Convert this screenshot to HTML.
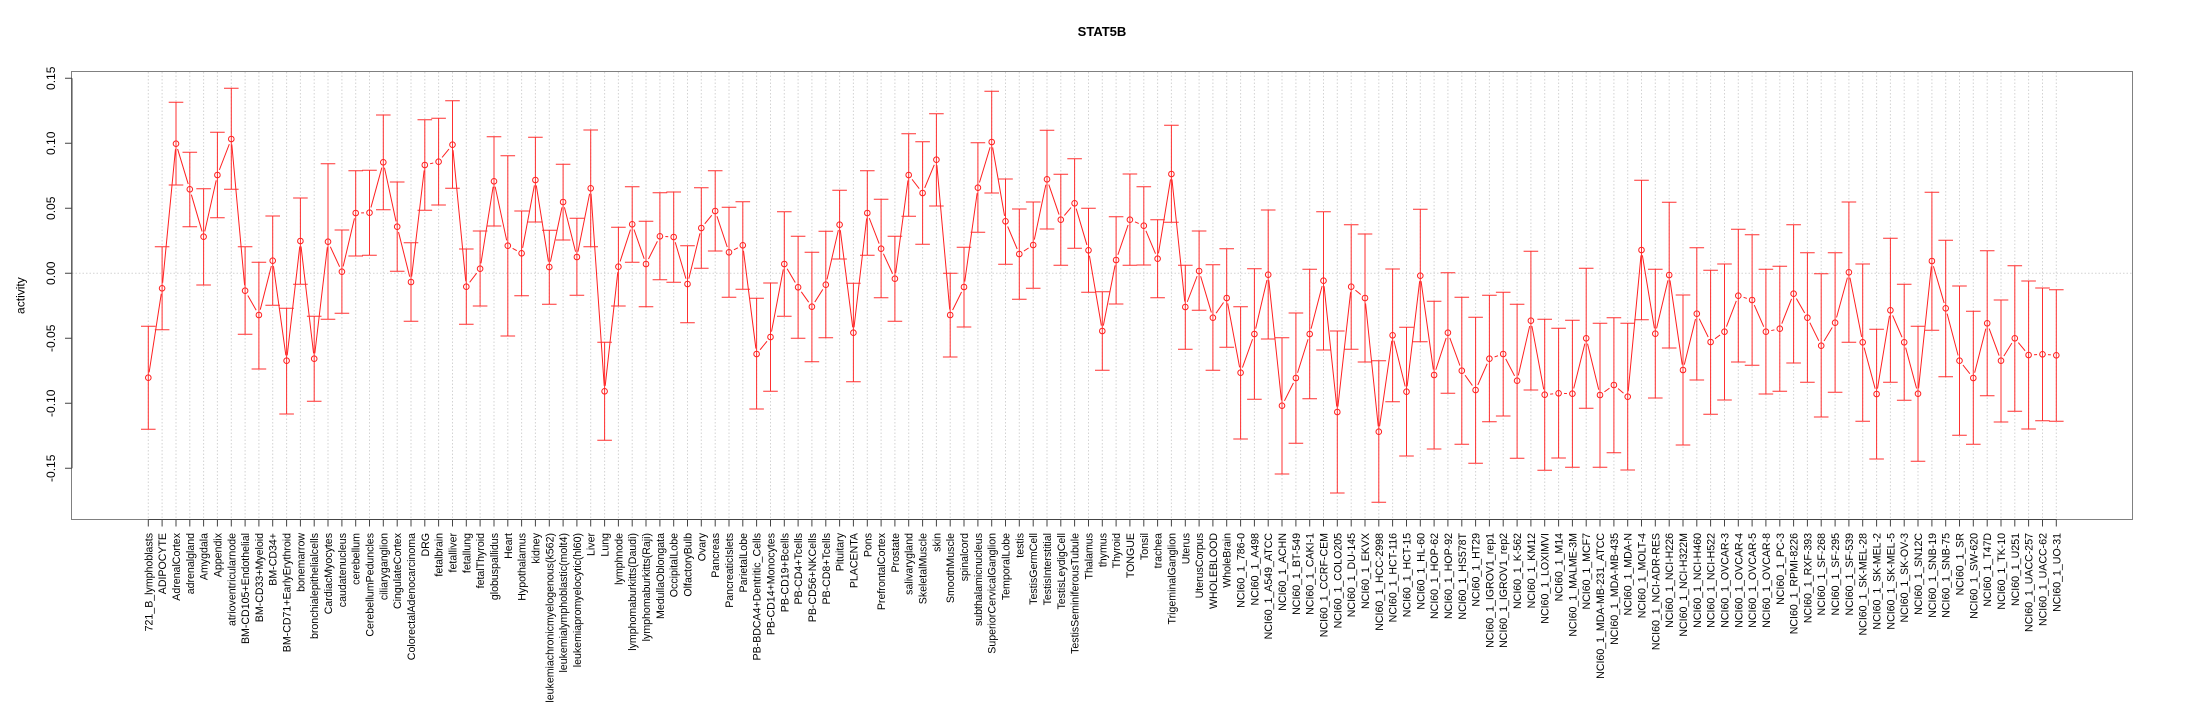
<!DOCTYPE html>
<html><head><meta charset="utf-8"><title>STAT5B</title>
<style>
html,body{margin:0;padding:0;background:#fff;}
svg{display:block;font-family:"Liberation Sans",Arial,sans-serif;}
</style></head>
<body>
<svg width="2205" height="720" viewBox="0 0 2205 720" xmlns="http://www.w3.org/2000/svg">
<rect width="2205" height="720" fill="#fff"/>
<text x="1102" y="36" font-size="13" font-weight="bold" text-anchor="middle" fill="#000">STAT5B</text>
<!-- grid -->
<path fill="none" stroke="#d3d3d3" stroke-width="1" stroke-dasharray="1.5 2" d="M148.3 72V519M162.1 72V519M176.0 72V519M189.8 72V519M203.6 72V519M217.4 72V519M231.3 72V519M245.1 72V519M258.9 72V519M272.7 72V519M286.6 72V519M300.4 72V519M314.2 72V519M328.0 72V519M341.9 72V519M355.7 72V519M369.5 72V519M383.3 72V519M397.2 72V519M411.0 72V519M424.8 72V519M438.6 72V519M452.5 72V519M466.3 72V519M480.1 72V519M494.0 72V519M507.8 72V519M521.6 72V519M535.4 72V519M549.3 72V519M563.1 72V519M576.9 72V519M590.7 72V519M604.6 72V519M618.4 72V519M632.2 72V519M646.0 72V519M659.9 72V519M673.7 72V519M687.5 72V519M701.3 72V519M715.2 72V519M729.0 72V519M742.8 72V519M756.6 72V519M770.5 72V519M784.3 72V519M798.1 72V519M811.9 72V519M825.8 72V519M839.6 72V519M853.4 72V519M867.3 72V519M881.1 72V519M894.9 72V519M908.7 72V519M922.6 72V519M936.4 72V519M950.2 72V519M964.0 72V519M977.9 72V519M991.7 72V519M1005.5 72V519M1019.3 72V519M1033.2 72V519M1047.0 72V519M1060.8 72V519M1074.6 72V519M1088.5 72V519M1102.3 72V519M1116.1 72V519M1129.9 72V519M1143.8 72V519M1157.6 72V519M1171.4 72V519M1185.3 72V519M1199.1 72V519M1212.9 72V519M1226.7 72V519M1240.6 72V519M1254.4 72V519M1268.2 72V519M1282.0 72V519M1295.9 72V519M1309.7 72V519M1323.5 72V519M1337.3 72V519M1351.2 72V519M1365.0 72V519M1378.8 72V519M1392.6 72V519M1406.5 72V519M1420.3 72V519M1434.1 72V519M1447.9 72V519M1461.8 72V519M1475.6 72V519M1489.4 72V519M1503.2 72V519M1517.1 72V519M1530.9 72V519M1544.7 72V519M1558.6 72V519M1572.4 72V519M1586.2 72V519M1600.0 72V519M1613.9 72V519M1627.7 72V519M1641.5 72V519M1655.3 72V519M1669.2 72V519M1683.0 72V519M1696.8 72V519M1710.6 72V519M1724.5 72V519M1738.3 72V519M1752.1 72V519M1765.9 72V519M1779.8 72V519M1793.6 72V519M1807.4 72V519M1821.2 72V519M1835.1 72V519M1848.9 72V519M1862.7 72V519M1876.6 72V519M1890.4 72V519M1904.2 72V519M1918.0 72V519M1931.9 72V519M1945.7 72V519M1959.5 72V519M1973.3 72V519M1987.2 72V519M2001.0 72V519M2014.8 72V519M2028.6 72V519M2042.5 72V519M2056.3 72V519M72 273.3H2132"/>
<!-- box -->
<rect x="71.5" y="71.5" width="2061" height="448" fill="none" stroke="#808080" stroke-width="1"/>
<!-- y axis -->
<path fill="none" stroke="#444" stroke-width="1" d="M72 78.3V468.3M65 78.3H72M65 143.3H72M65 208.3H72M65 273.3H72M65 338.3H72M65 403.3H72M65 468.3H72"/>
<g font-size="12" fill="#000" text-anchor="middle">
<text transform="translate(55,78.3) rotate(-90)">0.15</text>
<text transform="translate(55,143.3) rotate(-90)">0.10</text>
<text transform="translate(55,208.3) rotate(-90)">0.05</text>
<text transform="translate(55,273.3) rotate(-90)">0.00</text>
<text transform="translate(55,338.3) rotate(-90)">-0.05</text>
<text transform="translate(55,403.3) rotate(-90)">-0.10</text>
<text transform="translate(55,468.3) rotate(-90)">-0.15</text>
<text transform="translate(24.5,295.6) rotate(-90)">activity</text>
</g>
<!-- x axis -->
<path fill="none" stroke="#444" stroke-width="1" d="M148.3 519.5H2056.3M148.3 519.5v7M162.1 519.5v7M176.0 519.5v7M189.8 519.5v7M203.6 519.5v7M217.4 519.5v7M231.3 519.5v7M245.1 519.5v7M258.9 519.5v7M272.7 519.5v7M286.6 519.5v7M300.4 519.5v7M314.2 519.5v7M328.0 519.5v7M341.9 519.5v7M355.7 519.5v7M369.5 519.5v7M383.3 519.5v7M397.2 519.5v7M411.0 519.5v7M424.8 519.5v7M438.6 519.5v7M452.5 519.5v7M466.3 519.5v7M480.1 519.5v7M494.0 519.5v7M507.8 519.5v7M521.6 519.5v7M535.4 519.5v7M549.3 519.5v7M563.1 519.5v7M576.9 519.5v7M590.7 519.5v7M604.6 519.5v7M618.4 519.5v7M632.2 519.5v7M646.0 519.5v7M659.9 519.5v7M673.7 519.5v7M687.5 519.5v7M701.3 519.5v7M715.2 519.5v7M729.0 519.5v7M742.8 519.5v7M756.6 519.5v7M770.5 519.5v7M784.3 519.5v7M798.1 519.5v7M811.9 519.5v7M825.8 519.5v7M839.6 519.5v7M853.4 519.5v7M867.3 519.5v7M881.1 519.5v7M894.9 519.5v7M908.7 519.5v7M922.6 519.5v7M936.4 519.5v7M950.2 519.5v7M964.0 519.5v7M977.9 519.5v7M991.7 519.5v7M1005.5 519.5v7M1019.3 519.5v7M1033.2 519.5v7M1047.0 519.5v7M1060.8 519.5v7M1074.6 519.5v7M1088.5 519.5v7M1102.3 519.5v7M1116.1 519.5v7M1129.9 519.5v7M1143.8 519.5v7M1157.6 519.5v7M1171.4 519.5v7M1185.3 519.5v7M1199.1 519.5v7M1212.9 519.5v7M1226.7 519.5v7M1240.6 519.5v7M1254.4 519.5v7M1268.2 519.5v7M1282.0 519.5v7M1295.9 519.5v7M1309.7 519.5v7M1323.5 519.5v7M1337.3 519.5v7M1351.2 519.5v7M1365.0 519.5v7M1378.8 519.5v7M1392.6 519.5v7M1406.5 519.5v7M1420.3 519.5v7M1434.1 519.5v7M1447.9 519.5v7M1461.8 519.5v7M1475.6 519.5v7M1489.4 519.5v7M1503.2 519.5v7M1517.1 519.5v7M1530.9 519.5v7M1544.7 519.5v7M1558.6 519.5v7M1572.4 519.5v7M1586.2 519.5v7M1600.0 519.5v7M1613.9 519.5v7M1627.7 519.5v7M1641.5 519.5v7M1655.3 519.5v7M1669.2 519.5v7M1683.0 519.5v7M1696.8 519.5v7M1710.6 519.5v7M1724.5 519.5v7M1738.3 519.5v7M1752.1 519.5v7M1765.9 519.5v7M1779.8 519.5v7M1793.6 519.5v7M1807.4 519.5v7M1821.2 519.5v7M1835.1 519.5v7M1848.9 519.5v7M1862.7 519.5v7M1876.6 519.5v7M1890.4 519.5v7M1904.2 519.5v7M1918.0 519.5v7M1931.9 519.5v7M1945.7 519.5v7M1959.5 519.5v7M1973.3 519.5v7M1987.2 519.5v7M2001.0 519.5v7M2014.8 519.5v7M2028.6 519.5v7M2042.5 519.5v7M2056.3 519.5v7"/>
<!-- connecting line -->
<polyline fill="none" stroke="#ff2020" stroke-width="1" points="148.3,377.7 162.1,288.3 176.0,143.7 189.8,189.3 203.6,236.7 217.4,175 231.3,139 245.1,290.7 258.9,315 272.7,260.7 286.6,360.7 300.4,241 314.2,358.7 328.0,241.7 341.9,271.7 355.7,213 369.5,212.7 383.3,162.3 397.2,226.7 411.0,282 424.8,165 438.6,161.7 452.5,144.7 466.3,286.7 480.1,268.7 494.0,181.3 507.8,245.7 521.6,253.3 535.4,180 549.3,267 563.1,202 576.9,257 590.7,188.3 604.6,391.3 618.4,266.7 632.2,224.3 646.0,264 659.9,236.3 673.7,237 687.5,284 701.3,228 715.2,211 729.0,252.3 742.8,245.3 756.6,354 770.5,337 784.3,264 798.1,287.3 811.9,306.7 825.8,284.7 839.6,224.7 853.4,332.7 867.3,213 881.1,248.7 894.9,278.7 908.7,175 922.6,193 936.4,159.7 950.2,315 964.0,287 977.9,187.7 991.7,142 1005.5,221.3 1019.3,254 1033.2,245 1047.0,179.3 1060.8,219.7 1074.6,203.3 1088.5,250.3 1102.3,331 1116.1,260 1129.9,219.7 1143.8,225.7 1157.6,258.7 1171.4,174 1185.3,307 1199.1,271 1212.9,317.7 1226.7,298 1240.6,372.7 1254.4,334 1268.2,274.7 1282.0,405.7 1295.9,378 1309.7,334 1323.5,280.7 1337.3,412 1351.2,286.7 1365.0,298 1378.8,431.7 1392.6,335.3 1406.5,391.7 1420.3,275.7 1434.1,375 1447.9,332.7 1461.8,370.7 1475.6,390 1489.4,358.7 1503.2,354 1517.1,380.7 1530.9,320.7 1544.7,394.7 1558.6,393.3 1572.4,393.7 1586.2,338.3 1600.0,395 1613.9,385 1627.7,396.7 1641.5,250 1655.3,333.7 1669.2,275 1683.0,370 1696.8,313.7 1710.6,342 1724.5,331.7 1738.3,295.7 1752.1,300 1765.9,331.7 1779.8,328.7 1793.6,293.7 1807.4,317.7 1821.2,345.7 1835.1,322.7 1848.9,272.3 1862.7,342.3 1876.6,394 1890.4,310.3 1904.2,342.3 1918.0,393.7 1931.9,261 1945.7,308.3 1959.5,360.7 1973.3,378 1987.2,323.3 2001.0,360.7 2014.8,338.3 2028.6,355 2042.5,354.3 2056.3,355.3"/>
<!-- halos (gaps around points, like type="b") -->
<g fill="#fff" stroke="none">
<circle cx="148.3" cy="377.7" r="5.5"/><circle cx="162.1" cy="288.3" r="5.5"/><circle cx="176.0" cy="143.7" r="5.5"/><circle cx="189.8" cy="189.3" r="5.5"/><circle cx="203.6" cy="236.7" r="5.5"/><circle cx="217.4" cy="175" r="5.5"/><circle cx="231.3" cy="139" r="5.5"/><circle cx="245.1" cy="290.7" r="5.5"/><circle cx="258.9" cy="315" r="5.5"/><circle cx="272.7" cy="260.7" r="5.5"/><circle cx="286.6" cy="360.7" r="5.5"/><circle cx="300.4" cy="241" r="5.5"/><circle cx="314.2" cy="358.7" r="5.5"/><circle cx="328.0" cy="241.7" r="5.5"/><circle cx="341.9" cy="271.7" r="5.5"/><circle cx="355.7" cy="213" r="5.5"/><circle cx="369.5" cy="212.7" r="5.5"/><circle cx="383.3" cy="162.3" r="5.5"/><circle cx="397.2" cy="226.7" r="5.5"/><circle cx="411.0" cy="282" r="5.5"/><circle cx="424.8" cy="165" r="5.5"/><circle cx="438.6" cy="161.7" r="5.5"/><circle cx="452.5" cy="144.7" r="5.5"/><circle cx="466.3" cy="286.7" r="5.5"/><circle cx="480.1" cy="268.7" r="5.5"/><circle cx="494.0" cy="181.3" r="5.5"/><circle cx="507.8" cy="245.7" r="5.5"/><circle cx="521.6" cy="253.3" r="5.5"/><circle cx="535.4" cy="180" r="5.5"/><circle cx="549.3" cy="267" r="5.5"/><circle cx="563.1" cy="202" r="5.5"/><circle cx="576.9" cy="257" r="5.5"/><circle cx="590.7" cy="188.3" r="5.5"/><circle cx="604.6" cy="391.3" r="5.5"/><circle cx="618.4" cy="266.7" r="5.5"/><circle cx="632.2" cy="224.3" r="5.5"/><circle cx="646.0" cy="264" r="5.5"/><circle cx="659.9" cy="236.3" r="5.5"/><circle cx="673.7" cy="237" r="5.5"/><circle cx="687.5" cy="284" r="5.5"/><circle cx="701.3" cy="228" r="5.5"/><circle cx="715.2" cy="211" r="5.5"/><circle cx="729.0" cy="252.3" r="5.5"/><circle cx="742.8" cy="245.3" r="5.5"/><circle cx="756.6" cy="354" r="5.5"/><circle cx="770.5" cy="337" r="5.5"/><circle cx="784.3" cy="264" r="5.5"/><circle cx="798.1" cy="287.3" r="5.5"/><circle cx="811.9" cy="306.7" r="5.5"/><circle cx="825.8" cy="284.7" r="5.5"/><circle cx="839.6" cy="224.7" r="5.5"/><circle cx="853.4" cy="332.7" r="5.5"/><circle cx="867.3" cy="213" r="5.5"/><circle cx="881.1" cy="248.7" r="5.5"/><circle cx="894.9" cy="278.7" r="5.5"/><circle cx="908.7" cy="175" r="5.5"/><circle cx="922.6" cy="193" r="5.5"/><circle cx="936.4" cy="159.7" r="5.5"/><circle cx="950.2" cy="315" r="5.5"/><circle cx="964.0" cy="287" r="5.5"/><circle cx="977.9" cy="187.7" r="5.5"/><circle cx="991.7" cy="142" r="5.5"/><circle cx="1005.5" cy="221.3" r="5.5"/><circle cx="1019.3" cy="254" r="5.5"/><circle cx="1033.2" cy="245" r="5.5"/><circle cx="1047.0" cy="179.3" r="5.5"/><circle cx="1060.8" cy="219.7" r="5.5"/><circle cx="1074.6" cy="203.3" r="5.5"/><circle cx="1088.5" cy="250.3" r="5.5"/><circle cx="1102.3" cy="331" r="5.5"/><circle cx="1116.1" cy="260" r="5.5"/><circle cx="1129.9" cy="219.7" r="5.5"/><circle cx="1143.8" cy="225.7" r="5.5"/><circle cx="1157.6" cy="258.7" r="5.5"/><circle cx="1171.4" cy="174" r="5.5"/><circle cx="1185.3" cy="307" r="5.5"/><circle cx="1199.1" cy="271" r="5.5"/><circle cx="1212.9" cy="317.7" r="5.5"/><circle cx="1226.7" cy="298" r="5.5"/><circle cx="1240.6" cy="372.7" r="5.5"/><circle cx="1254.4" cy="334" r="5.5"/><circle cx="1268.2" cy="274.7" r="5.5"/><circle cx="1282.0" cy="405.7" r="5.5"/><circle cx="1295.9" cy="378" r="5.5"/><circle cx="1309.7" cy="334" r="5.5"/><circle cx="1323.5" cy="280.7" r="5.5"/><circle cx="1337.3" cy="412" r="5.5"/><circle cx="1351.2" cy="286.7" r="5.5"/><circle cx="1365.0" cy="298" r="5.5"/><circle cx="1378.8" cy="431.7" r="5.5"/><circle cx="1392.6" cy="335.3" r="5.5"/><circle cx="1406.5" cy="391.7" r="5.5"/><circle cx="1420.3" cy="275.7" r="5.5"/><circle cx="1434.1" cy="375" r="5.5"/><circle cx="1447.9" cy="332.7" r="5.5"/><circle cx="1461.8" cy="370.7" r="5.5"/><circle cx="1475.6" cy="390" r="5.5"/><circle cx="1489.4" cy="358.7" r="5.5"/><circle cx="1503.2" cy="354" r="5.5"/><circle cx="1517.1" cy="380.7" r="5.5"/><circle cx="1530.9" cy="320.7" r="5.5"/><circle cx="1544.7" cy="394.7" r="5.5"/><circle cx="1558.6" cy="393.3" r="5.5"/><circle cx="1572.4" cy="393.7" r="5.5"/><circle cx="1586.2" cy="338.3" r="5.5"/><circle cx="1600.0" cy="395" r="5.5"/><circle cx="1613.9" cy="385" r="5.5"/><circle cx="1627.7" cy="396.7" r="5.5"/><circle cx="1641.5" cy="250" r="5.5"/><circle cx="1655.3" cy="333.7" r="5.5"/><circle cx="1669.2" cy="275" r="5.5"/><circle cx="1683.0" cy="370" r="5.5"/><circle cx="1696.8" cy="313.7" r="5.5"/><circle cx="1710.6" cy="342" r="5.5"/><circle cx="1724.5" cy="331.7" r="5.5"/><circle cx="1738.3" cy="295.7" r="5.5"/><circle cx="1752.1" cy="300" r="5.5"/><circle cx="1765.9" cy="331.7" r="5.5"/><circle cx="1779.8" cy="328.7" r="5.5"/><circle cx="1793.6" cy="293.7" r="5.5"/><circle cx="1807.4" cy="317.7" r="5.5"/><circle cx="1821.2" cy="345.7" r="5.5"/><circle cx="1835.1" cy="322.7" r="5.5"/><circle cx="1848.9" cy="272.3" r="5.5"/><circle cx="1862.7" cy="342.3" r="5.5"/><circle cx="1876.6" cy="394" r="5.5"/><circle cx="1890.4" cy="310.3" r="5.5"/><circle cx="1904.2" cy="342.3" r="5.5"/><circle cx="1918.0" cy="393.7" r="5.5"/><circle cx="1931.9" cy="261" r="5.5"/><circle cx="1945.7" cy="308.3" r="5.5"/><circle cx="1959.5" cy="360.7" r="5.5"/><circle cx="1973.3" cy="378" r="5.5"/><circle cx="1987.2" cy="323.3" r="5.5"/><circle cx="2001.0" cy="360.7" r="5.5"/><circle cx="2014.8" cy="338.3" r="5.5"/><circle cx="2028.6" cy="355" r="5.5"/><circle cx="2042.5" cy="354.3" r="5.5"/><circle cx="2056.3" cy="355.3" r="5.5"/>
</g>
<!-- error bars -->
<path fill="none" stroke="#ff3030" stroke-width="1" d="M148.3 326.3V429.3M141.0 326.3h14.6M141.0 429.3h14.6
M162.1 246.7V329.7M154.8 246.7h14.6M154.8 329.7h14.6
M176.0 102.3V185M168.7 102.3h14.6M168.7 185h14.6
M189.8 152.3V226.7M182.5 152.3h14.6M182.5 226.7h14.6
M203.6 188.7V285M196.3 188.7h14.6M196.3 285h14.6
M217.4 132.3V217.7M210.1 132.3h14.6M210.1 217.7h14.6
M231.3 88.3V189.3M224.0 88.3h14.6M224.0 189.3h14.6
M245.1 246.7V334.3M237.8 246.7h14.6M237.8 334.3h14.6
M258.9 262.3V369M251.6 262.3h14.6M251.6 369h14.6
M272.7 216V305.3M265.4 216h14.6M265.4 305.3h14.6
M286.6 308.3V414M279.3 308.3h14.6M279.3 414h14.6
M300.4 198V284.3M293.1 198h14.6M293.1 284.3h14.6
M314.2 316.3V401.3M306.9 316.3h14.6M306.9 401.3h14.6
M328.0 163.7V319.3M320.7 163.7h14.6M320.7 319.3h14.6
M341.9 230V313.3M334.6 230h14.6M334.6 313.3h14.6
M355.7 170.7V256M348.4 170.7h14.6M348.4 256h14.6
M369.5 170.3V255.3M362.2 170.3h14.6M362.2 255.3h14.6
M383.3 115V209.7M376.0 115h14.6M376.0 209.7h14.6
M397.2 182V271.3M389.9 182h14.6M389.9 271.3h14.6
M411.0 242.7V321.3M403.7 242.7h14.6M403.7 321.3h14.6
M424.8 119.7V210.3M417.5 119.7h14.6M417.5 210.3h14.6
M438.6 118.3V205M431.3 118.3h14.6M431.3 205h14.6
M452.5 100.7V188.3M445.2 100.7h14.6M445.2 188.3h14.6
M466.3 249V324.3M459.0 249h14.6M459.0 324.3h14.6
M480.1 231V306M472.8 231h14.6M472.8 306h14.6
M494.0 136.7V226M486.7 136.7h14.6M486.7 226h14.6
M507.8 155.7V336M500.5 155.7h14.6M500.5 336h14.6
M521.6 211V295.7M514.3 211h14.6M514.3 295.7h14.6
M535.4 137.3V222M528.1 137.3h14.6M528.1 222h14.6
M549.3 230.3V304.3M542.0 230.3h14.6M542.0 304.3h14.6
M563.1 164.3V240M555.8 164.3h14.6M555.8 240h14.6
M576.9 218.3V295.3M569.6 218.3h14.6M569.6 295.3h14.6
M590.7 130V246.7M583.4 130h14.6M583.4 246.7h14.6
M604.6 342.3V440.3M597.3 342.3h14.6M597.3 440.3h14.6
M618.4 227.3V306M611.1 227.3h14.6M611.1 306h14.6
M632.2 186.7V262.3M624.9 186.7h14.6M624.9 262.3h14.6
M646.0 221.3V306.7M638.7 221.3h14.6M638.7 306.7h14.6
M659.9 192.7V279.7M652.6 192.7h14.6M652.6 279.7h14.6
M673.7 192V282.3M666.4 192h14.6M666.4 282.3h14.6
M687.5 245.7V322.7M680.2 245.7h14.6M680.2 322.7h14.6
M701.3 187.7V268.3M694.0 187.7h14.6M694.0 268.3h14.6
M715.2 170.7V251M707.9 170.7h14.6M707.9 251h14.6
M729.0 207.3V297.3M721.7 207.3h14.6M721.7 297.3h14.6
M742.8 201.7V289.3M735.5 201.7h14.6M735.5 289.3h14.6
M756.6 298.3V409M749.3 298.3h14.6M749.3 409h14.6
M770.5 283V391.3M763.2 283h14.6M763.2 391.3h14.6
M784.3 211.7V316.3M777.0 211.7h14.6M777.0 316.3h14.6
M798.1 236.3V338.3M790.8 236.3h14.6M790.8 338.3h14.6
M811.9 252.3V361.7M804.6 252.3h14.6M804.6 361.7h14.6
M825.8 231.3V337.7M818.5 231.3h14.6M818.5 337.7h14.6
M839.6 190.3V259M832.3 190.3h14.6M832.3 259h14.6
M853.4 283.3V381.7M846.1 283.3h14.6M846.1 381.7h14.6
M867.3 170.7V255.3M860.0 170.7h14.6M860.0 255.3h14.6
M881.1 199.3V297.7M873.8 199.3h14.6M873.8 297.7h14.6
M894.9 236.3V321.3M887.6 236.3h14.6M887.6 321.3h14.6
M908.7 133.7V216.3M901.4 133.7h14.6M901.4 216.3h14.6
M922.6 141.7V244.3M915.3 141.7h14.6M915.3 244.3h14.6
M936.4 113.7V206M929.1 113.7h14.6M929.1 206h14.6
M950.2 273.3V357M942.9 273.3h14.6M942.9 357h14.6
M964.0 247.3V327M956.7 247.3h14.6M956.7 327h14.6
M977.9 142.7V232.3M970.6 142.7h14.6M970.6 232.3h14.6
M991.7 91.3V193M984.4 91.3h14.6M984.4 193h14.6
M1005.5 179V264.3M998.2 179h14.6M998.2 264.3h14.6
M1019.3 209V299.3M1012.0 209h14.6M1012.0 299.3h14.6
M1033.2 202V288.3M1025.9 202h14.6M1025.9 288.3h14.6
M1047.0 130.3V229M1039.7 130.3h14.6M1039.7 229h14.6
M1060.8 174.3V265.3M1053.5 174.3h14.6M1053.5 265.3h14.6
M1074.6 158.7V248.3M1067.3 158.7h14.6M1067.3 248.3h14.6
M1088.5 208.3V292.3M1081.2 208.3h14.6M1081.2 292.3h14.6
M1102.3 291.7V370.3M1095.0 291.7h14.6M1095.0 370.3h14.6
M1116.1 216.7V304M1108.8 216.7h14.6M1108.8 304h14.6
M1129.9 174V265.3M1122.6 174h14.6M1122.6 265.3h14.6
M1143.8 186.7V265M1136.5 186.7h14.6M1136.5 265h14.6
M1157.6 219.7V297.7M1150.3 219.7h14.6M1150.3 297.7h14.6
M1171.4 125.3V222.3M1164.1 125.3h14.6M1164.1 222.3h14.6
M1185.3 265.3V349.3M1178.0 265.3h14.6M1178.0 349.3h14.6
M1199.1 231V310.3M1191.8 231h14.6M1191.8 310.3h14.6
M1212.9 264.7V370.3M1205.6 264.7h14.6M1205.6 370.3h14.6
M1226.7 248.7V347.3M1219.4 248.7h14.6M1219.4 347.3h14.6
M1240.6 306.7V439M1233.3 306.7h14.6M1233.3 439h14.6
M1254.4 268.7V399.3M1247.1 268.7h14.6M1247.1 399.3h14.6
M1268.2 210V339M1260.9 210h14.6M1260.9 339h14.6
M1282.0 337.7V474M1274.7 337.7h14.6M1274.7 474h14.6
M1295.9 313V443.3M1288.6 313h14.6M1288.6 443.3h14.6
M1309.7 269.3V398.7M1302.4 269.3h14.6M1302.4 398.7h14.6
M1323.5 211.7V350M1316.2 211.7h14.6M1316.2 350h14.6
M1337.3 331V493M1330.0 331h14.6M1330.0 493h14.6
M1351.2 224.7V349.3M1343.9 224.7h14.6M1343.9 349.3h14.6
M1365.0 234V362M1357.7 234h14.6M1357.7 362h14.6
M1378.8 360.7V502.3M1371.5 360.7h14.6M1371.5 502.3h14.6
M1392.6 269V401.7M1385.3 269h14.6M1385.3 401.7h14.6
M1406.5 327.3V456M1399.2 327.3h14.6M1399.2 456h14.6
M1420.3 209.3V341.7M1413.0 209.3h14.6M1413.0 341.7h14.6
M1434.1 301.3V449M1426.8 301.3h14.6M1426.8 449h14.6
M1447.9 272.7V393.3M1440.6 272.7h14.6M1440.6 393.3h14.6
M1461.8 297.3V444.3M1454.5 297.3h14.6M1454.5 444.3h14.6
M1475.6 317.3V463.3M1468.3 317.3h14.6M1468.3 463.3h14.6
M1489.4 295.3V421.7M1482.1 295.3h14.6M1482.1 421.7h14.6
M1503.2 292.3V416M1495.9 292.3h14.6M1495.9 416h14.6
M1517.1 304.3V458.3M1509.8 304.3h14.6M1509.8 458.3h14.6
M1530.9 251.3V390M1523.6 251.3h14.6M1523.6 390h14.6
M1544.7 319.3V470.3M1537.4 319.3h14.6M1537.4 470.3h14.6
M1558.6 328.3V458M1551.3 328.3h14.6M1551.3 458h14.6
M1572.4 320.3V467.3M1565.1 320.3h14.6M1565.1 467.3h14.6
M1586.2 268.3V408.3M1578.9 268.3h14.6M1578.9 408.3h14.6
M1600.0 323.3V467.3M1592.7 323.3h14.6M1592.7 467.3h14.6
M1613.9 317.7V452.7M1606.6 317.7h14.6M1606.6 452.7h14.6
M1627.7 323.3V470M1620.4 323.3h14.6M1620.4 470h14.6
M1641.5 180.3V319.7M1634.2 180.3h14.6M1634.2 319.7h14.6
M1655.3 269.3V398M1648.0 269.3h14.6M1648.0 398h14.6
M1669.2 202.3V348M1661.9 202.3h14.6M1661.9 348h14.6
M1683.0 295V445M1675.7 295h14.6M1675.7 445h14.6
M1696.8 247.7V380M1689.5 247.7h14.6M1689.5 380h14.6
M1710.6 270.3V414.3M1703.3 270.3h14.6M1703.3 414.3h14.6
M1724.5 264V400M1717.2 264h14.6M1717.2 400h14.6
M1738.3 229.3V362M1731.0 229.3h14.6M1731.0 362h14.6
M1752.1 234.7V365.3M1744.8 234.7h14.6M1744.8 365.3h14.6
M1765.9 269.3V394M1758.6 269.3h14.6M1758.6 394h14.6
M1779.8 266.3V391.3M1772.5 266.3h14.6M1772.5 391.3h14.6
M1793.6 224.7V363M1786.3 224.7h14.6M1786.3 363h14.6
M1807.4 252.7V382.3M1800.1 252.7h14.6M1800.1 382.3h14.6
M1821.2 273.7V417M1813.9 273.7h14.6M1813.9 417h14.6
M1835.1 252.7V392.3M1827.8 252.7h14.6M1827.8 392.3h14.6
M1848.9 202V342.3M1841.6 202h14.6M1841.6 342.3h14.6
M1862.7 264V421.3M1855.4 264h14.6M1855.4 421.3h14.6
M1876.6 329.3V459M1869.3 329.3h14.6M1869.3 459h14.6
M1890.4 238.3V382.3M1883.1 238.3h14.6M1883.1 382.3h14.6
M1904.2 284.3V400.3M1896.9 284.3h14.6M1896.9 400.3h14.6
M1918.0 326.3V461.3M1910.7 326.3h14.6M1910.7 461.3h14.6
M1931.9 192.3V330.3M1924.6 192.3h14.6M1924.6 330.3h14.6
M1945.7 240.3V376.7M1938.4 240.3h14.6M1938.4 376.7h14.6
M1959.5 286V435.3M1952.2 286h14.6M1952.2 435.3h14.6
M1973.3 311.3V444.3M1966.0 311.3h14.6M1966.0 444.3h14.6
M1987.2 250.7V395.7M1979.9 250.7h14.6M1979.9 395.7h14.6
M2001.0 300V422M1993.7 300h14.6M1993.7 422h14.6
M2014.8 265.7V411.3M2007.5 265.7h14.6M2007.5 411.3h14.6
M2028.6 281V429M2021.3 281h14.6M2021.3 429h14.6
M2042.5 288V420.7M2035.2 288h14.6M2035.2 420.7h14.6
M2056.3 289.7V421.3M2049.0 289.7h14.6M2049.0 421.3h14.6"/>
<!-- points -->
<g fill="none" stroke="#ff2020" stroke-width="1">
<circle cx="148.3" cy="377.7" r="2.8"/><circle cx="162.1" cy="288.3" r="2.8"/><circle cx="176.0" cy="143.7" r="2.8"/><circle cx="189.8" cy="189.3" r="2.8"/><circle cx="203.6" cy="236.7" r="2.8"/><circle cx="217.4" cy="175" r="2.8"/><circle cx="231.3" cy="139" r="2.8"/><circle cx="245.1" cy="290.7" r="2.8"/><circle cx="258.9" cy="315" r="2.8"/><circle cx="272.7" cy="260.7" r="2.8"/><circle cx="286.6" cy="360.7" r="2.8"/><circle cx="300.4" cy="241" r="2.8"/><circle cx="314.2" cy="358.7" r="2.8"/><circle cx="328.0" cy="241.7" r="2.8"/><circle cx="341.9" cy="271.7" r="2.8"/><circle cx="355.7" cy="213" r="2.8"/><circle cx="369.5" cy="212.7" r="2.8"/><circle cx="383.3" cy="162.3" r="2.8"/><circle cx="397.2" cy="226.7" r="2.8"/><circle cx="411.0" cy="282" r="2.8"/><circle cx="424.8" cy="165" r="2.8"/><circle cx="438.6" cy="161.7" r="2.8"/><circle cx="452.5" cy="144.7" r="2.8"/><circle cx="466.3" cy="286.7" r="2.8"/><circle cx="480.1" cy="268.7" r="2.8"/><circle cx="494.0" cy="181.3" r="2.8"/><circle cx="507.8" cy="245.7" r="2.8"/><circle cx="521.6" cy="253.3" r="2.8"/><circle cx="535.4" cy="180" r="2.8"/><circle cx="549.3" cy="267" r="2.8"/><circle cx="563.1" cy="202" r="2.8"/><circle cx="576.9" cy="257" r="2.8"/><circle cx="590.7" cy="188.3" r="2.8"/><circle cx="604.6" cy="391.3" r="2.8"/><circle cx="618.4" cy="266.7" r="2.8"/><circle cx="632.2" cy="224.3" r="2.8"/><circle cx="646.0" cy="264" r="2.8"/><circle cx="659.9" cy="236.3" r="2.8"/><circle cx="673.7" cy="237" r="2.8"/><circle cx="687.5" cy="284" r="2.8"/><circle cx="701.3" cy="228" r="2.8"/><circle cx="715.2" cy="211" r="2.8"/><circle cx="729.0" cy="252.3" r="2.8"/><circle cx="742.8" cy="245.3" r="2.8"/><circle cx="756.6" cy="354" r="2.8"/><circle cx="770.5" cy="337" r="2.8"/><circle cx="784.3" cy="264" r="2.8"/><circle cx="798.1" cy="287.3" r="2.8"/><circle cx="811.9" cy="306.7" r="2.8"/><circle cx="825.8" cy="284.7" r="2.8"/><circle cx="839.6" cy="224.7" r="2.8"/><circle cx="853.4" cy="332.7" r="2.8"/><circle cx="867.3" cy="213" r="2.8"/><circle cx="881.1" cy="248.7" r="2.8"/><circle cx="894.9" cy="278.7" r="2.8"/><circle cx="908.7" cy="175" r="2.8"/><circle cx="922.6" cy="193" r="2.8"/><circle cx="936.4" cy="159.7" r="2.8"/><circle cx="950.2" cy="315" r="2.8"/><circle cx="964.0" cy="287" r="2.8"/><circle cx="977.9" cy="187.7" r="2.8"/><circle cx="991.7" cy="142" r="2.8"/><circle cx="1005.5" cy="221.3" r="2.8"/><circle cx="1019.3" cy="254" r="2.8"/><circle cx="1033.2" cy="245" r="2.8"/><circle cx="1047.0" cy="179.3" r="2.8"/><circle cx="1060.8" cy="219.7" r="2.8"/><circle cx="1074.6" cy="203.3" r="2.8"/><circle cx="1088.5" cy="250.3" r="2.8"/><circle cx="1102.3" cy="331" r="2.8"/><circle cx="1116.1" cy="260" r="2.8"/><circle cx="1129.9" cy="219.7" r="2.8"/><circle cx="1143.8" cy="225.7" r="2.8"/><circle cx="1157.6" cy="258.7" r="2.8"/><circle cx="1171.4" cy="174" r="2.8"/><circle cx="1185.3" cy="307" r="2.8"/><circle cx="1199.1" cy="271" r="2.8"/><circle cx="1212.9" cy="317.7" r="2.8"/><circle cx="1226.7" cy="298" r="2.8"/><circle cx="1240.6" cy="372.7" r="2.8"/><circle cx="1254.4" cy="334" r="2.8"/><circle cx="1268.2" cy="274.7" r="2.8"/><circle cx="1282.0" cy="405.7" r="2.8"/><circle cx="1295.9" cy="378" r="2.8"/><circle cx="1309.7" cy="334" r="2.8"/><circle cx="1323.5" cy="280.7" r="2.8"/><circle cx="1337.3" cy="412" r="2.8"/><circle cx="1351.2" cy="286.7" r="2.8"/><circle cx="1365.0" cy="298" r="2.8"/><circle cx="1378.8" cy="431.7" r="2.8"/><circle cx="1392.6" cy="335.3" r="2.8"/><circle cx="1406.5" cy="391.7" r="2.8"/><circle cx="1420.3" cy="275.7" r="2.8"/><circle cx="1434.1" cy="375" r="2.8"/><circle cx="1447.9" cy="332.7" r="2.8"/><circle cx="1461.8" cy="370.7" r="2.8"/><circle cx="1475.6" cy="390" r="2.8"/><circle cx="1489.4" cy="358.7" r="2.8"/><circle cx="1503.2" cy="354" r="2.8"/><circle cx="1517.1" cy="380.7" r="2.8"/><circle cx="1530.9" cy="320.7" r="2.8"/><circle cx="1544.7" cy="394.7" r="2.8"/><circle cx="1558.6" cy="393.3" r="2.8"/><circle cx="1572.4" cy="393.7" r="2.8"/><circle cx="1586.2" cy="338.3" r="2.8"/><circle cx="1600.0" cy="395" r="2.8"/><circle cx="1613.9" cy="385" r="2.8"/><circle cx="1627.7" cy="396.7" r="2.8"/><circle cx="1641.5" cy="250" r="2.8"/><circle cx="1655.3" cy="333.7" r="2.8"/><circle cx="1669.2" cy="275" r="2.8"/><circle cx="1683.0" cy="370" r="2.8"/><circle cx="1696.8" cy="313.7" r="2.8"/><circle cx="1710.6" cy="342" r="2.8"/><circle cx="1724.5" cy="331.7" r="2.8"/><circle cx="1738.3" cy="295.7" r="2.8"/><circle cx="1752.1" cy="300" r="2.8"/><circle cx="1765.9" cy="331.7" r="2.8"/><circle cx="1779.8" cy="328.7" r="2.8"/><circle cx="1793.6" cy="293.7" r="2.8"/><circle cx="1807.4" cy="317.7" r="2.8"/><circle cx="1821.2" cy="345.7" r="2.8"/><circle cx="1835.1" cy="322.7" r="2.8"/><circle cx="1848.9" cy="272.3" r="2.8"/><circle cx="1862.7" cy="342.3" r="2.8"/><circle cx="1876.6" cy="394" r="2.8"/><circle cx="1890.4" cy="310.3" r="2.8"/><circle cx="1904.2" cy="342.3" r="2.8"/><circle cx="1918.0" cy="393.7" r="2.8"/><circle cx="1931.9" cy="261" r="2.8"/><circle cx="1945.7" cy="308.3" r="2.8"/><circle cx="1959.5" cy="360.7" r="2.8"/><circle cx="1973.3" cy="378" r="2.8"/><circle cx="1987.2" cy="323.3" r="2.8"/><circle cx="2001.0" cy="360.7" r="2.8"/><circle cx="2014.8" cy="338.3" r="2.8"/><circle cx="2028.6" cy="355" r="2.8"/><circle cx="2042.5" cy="354.3" r="2.8"/><circle cx="2056.3" cy="355.3" r="2.8"/>
</g>
<!-- x labels -->
<g font-size="10.6" fill="#000" text-anchor="end">
<text transform="translate(152.3,533) rotate(-90)">721_B_lymphoblasts</text>
<text transform="translate(166.1,533) rotate(-90)">ADIPOCYTE</text>
<text transform="translate(180.0,533) rotate(-90)">AdrenalCortex</text>
<text transform="translate(193.8,533) rotate(-90)">adrenalgland</text>
<text transform="translate(207.6,533) rotate(-90)">Amygdala</text>
<text transform="translate(221.4,533) rotate(-90)">Appendix</text>
<text transform="translate(235.3,533) rotate(-90)">atrioventricularnode</text>
<text transform="translate(249.1,533) rotate(-90)">BM-CD105+Endothelial</text>
<text transform="translate(262.9,533) rotate(-90)">BM-CD33+Myeloid</text>
<text transform="translate(276.7,533) rotate(-90)">BM-CD34+</text>
<text transform="translate(290.6,533) rotate(-90)">BM-CD71+EarlyErythroid</text>
<text transform="translate(304.4,533) rotate(-90)">bonemarrow</text>
<text transform="translate(318.2,533) rotate(-90)">bronchialepithelialcells</text>
<text transform="translate(332.0,533) rotate(-90)">CardiacMyocytes</text>
<text transform="translate(345.9,533) rotate(-90)">caudatenucleus</text>
<text transform="translate(359.7,533) rotate(-90)">cerebellum</text>
<text transform="translate(373.5,533) rotate(-90)">CerebellumPeduncles</text>
<text transform="translate(387.3,533) rotate(-90)">ciliaryganglion</text>
<text transform="translate(401.2,533) rotate(-90)">CingulateCortex</text>
<text transform="translate(415.0,533) rotate(-90)">ColorectalAdenocarcinoma</text>
<text transform="translate(428.8,533) rotate(-90)">DRG</text>
<text transform="translate(442.6,533) rotate(-90)">fetalbrain</text>
<text transform="translate(456.5,533) rotate(-90)">fetalliver</text>
<text transform="translate(470.3,533) rotate(-90)">fetallung</text>
<text transform="translate(484.1,533) rotate(-90)">fetalThyroid</text>
<text transform="translate(498.0,533) rotate(-90)">globuspallidus</text>
<text transform="translate(511.8,533) rotate(-90)">Heart</text>
<text transform="translate(525.6,533) rotate(-90)">Hypothalamus</text>
<text transform="translate(539.4,533) rotate(-90)">kidney</text>
<text transform="translate(553.3,533) rotate(-90)">leukemiachronicmyelogenous(k562)</text>
<text transform="translate(567.1,533) rotate(-90)">leukemialymphoblastic(molt4)</text>
<text transform="translate(580.9,533) rotate(-90)">leukemiapromyelocytic(hl60)</text>
<text transform="translate(594.7,533) rotate(-90)">Liver</text>
<text transform="translate(608.6,533) rotate(-90)">Lung</text>
<text transform="translate(622.4,533) rotate(-90)">lymphnode</text>
<text transform="translate(636.2,533) rotate(-90)">lymphomaburkitts(Daudi)</text>
<text transform="translate(650.0,533) rotate(-90)">lymphomaburkitts(Raji)</text>
<text transform="translate(663.9,533) rotate(-90)">MedullaOblongata</text>
<text transform="translate(677.7,533) rotate(-90)">OccipitalLobe</text>
<text transform="translate(691.5,533) rotate(-90)">OlfactoryBulb</text>
<text transform="translate(705.3,533) rotate(-90)">Ovary</text>
<text transform="translate(719.2,533) rotate(-90)">Pancreas</text>
<text transform="translate(733.0,533) rotate(-90)">PancreaticIslets</text>
<text transform="translate(746.8,533) rotate(-90)">ParietalLobe</text>
<text transform="translate(760.6,533) rotate(-90)">PB-BDCA4+Dentritic_Cells</text>
<text transform="translate(774.5,533) rotate(-90)">PB-CD14+Monocytes</text>
<text transform="translate(788.3,533) rotate(-90)">PB-CD19+Bcells</text>
<text transform="translate(802.1,533) rotate(-90)">PB-CD4+Tcells</text>
<text transform="translate(815.9,533) rotate(-90)">PB-CD56+NKCells</text>
<text transform="translate(829.8,533) rotate(-90)">PB-CD8+Tcells</text>
<text transform="translate(843.6,533) rotate(-90)">Pituitary</text>
<text transform="translate(857.4,533) rotate(-90)">PLACENTA</text>
<text transform="translate(871.3,533) rotate(-90)">Pons</text>
<text transform="translate(885.1,533) rotate(-90)">PrefrontalCortex</text>
<text transform="translate(898.9,533) rotate(-90)">Prostate</text>
<text transform="translate(912.7,533) rotate(-90)">salivarygland</text>
<text transform="translate(926.6,533) rotate(-90)">SkeletalMuscle</text>
<text transform="translate(940.4,533) rotate(-90)">skin</text>
<text transform="translate(954.2,533) rotate(-90)">SmoothMuscle</text>
<text transform="translate(968.0,533) rotate(-90)">spinalcord</text>
<text transform="translate(981.9,533) rotate(-90)">subthalamicnucleus</text>
<text transform="translate(995.7,533) rotate(-90)">SuperiorCervicalGanglion</text>
<text transform="translate(1009.5,533) rotate(-90)">TemporalLobe</text>
<text transform="translate(1023.3,533) rotate(-90)">testis</text>
<text transform="translate(1037.2,533) rotate(-90)">TestisGermCell</text>
<text transform="translate(1051.0,533) rotate(-90)">TestisInterstitial</text>
<text transform="translate(1064.8,533) rotate(-90)">TestisLeydigCell</text>
<text transform="translate(1078.6,533) rotate(-90)">TestisSeminiferousTubule</text>
<text transform="translate(1092.5,533) rotate(-90)">Thalamus</text>
<text transform="translate(1106.3,533) rotate(-90)">thymus</text>
<text transform="translate(1120.1,533) rotate(-90)">Thyroid</text>
<text transform="translate(1133.9,533) rotate(-90)">TONGUE</text>
<text transform="translate(1147.8,533) rotate(-90)">Tonsil</text>
<text transform="translate(1161.6,533) rotate(-90)">trachea</text>
<text transform="translate(1175.4,533) rotate(-90)">TrigeminalGanglion</text>
<text transform="translate(1189.3,533) rotate(-90)">Uterus</text>
<text transform="translate(1203.1,533) rotate(-90)">UterusCorpus</text>
<text transform="translate(1216.9,533) rotate(-90)">WHOLEBLOOD</text>
<text transform="translate(1230.7,533) rotate(-90)">WholeBrain</text>
<text transform="translate(1244.6,533) rotate(-90)">NCI60_1_786-0</text>
<text transform="translate(1258.4,533) rotate(-90)">NCI60_1_A498</text>
<text transform="translate(1272.2,533) rotate(-90)">NCI60_1_A549_ATCC</text>
<text transform="translate(1286.0,533) rotate(-90)">NCI60_1_ACHN</text>
<text transform="translate(1299.9,533) rotate(-90)">NCI60_1_BT-549</text>
<text transform="translate(1313.7,533) rotate(-90)">NCI60_1_CAKI-1</text>
<text transform="translate(1327.5,533) rotate(-90)">NCI60_1_CCRF-CEM</text>
<text transform="translate(1341.3,533) rotate(-90)">NCI60_1_COLO205</text>
<text transform="translate(1355.2,533) rotate(-90)">NCI60_1_DU-145</text>
<text transform="translate(1369.0,533) rotate(-90)">NCI60_1_EKVX</text>
<text transform="translate(1382.8,533) rotate(-90)">NCI60_1_HCC-2998</text>
<text transform="translate(1396.6,533) rotate(-90)">NCI60_1_HCT-116</text>
<text transform="translate(1410.5,533) rotate(-90)">NCI60_1_HCT-15</text>
<text transform="translate(1424.3,533) rotate(-90)">NCI60_1_HL-60</text>
<text transform="translate(1438.1,533) rotate(-90)">NCI60_1_HOP-62</text>
<text transform="translate(1451.9,533) rotate(-90)">NCI60_1_HOP-92</text>
<text transform="translate(1465.8,533) rotate(-90)">NCI60_1_HS578T</text>
<text transform="translate(1479.6,533) rotate(-90)">NCI60_1_HT29</text>
<text transform="translate(1493.4,533) rotate(-90)">NCI60_1_IGROV1_rep1</text>
<text transform="translate(1507.2,533) rotate(-90)">NCI60_1_IGROV1_rep2</text>
<text transform="translate(1521.1,533) rotate(-90)">NCI60_1_K-562</text>
<text transform="translate(1534.9,533) rotate(-90)">NCI60_1_KM12</text>
<text transform="translate(1548.7,533) rotate(-90)">NCI60_1_LOXIMVI</text>
<text transform="translate(1562.6,533) rotate(-90)">NCI60_1_M14</text>
<text transform="translate(1576.4,533) rotate(-90)">NCI60_1_MALME-3M</text>
<text transform="translate(1590.2,533) rotate(-90)">NCI60_1_MCF7</text>
<text transform="translate(1604.0,533) rotate(-90)">NCI60_1_MDA-MB-231_ATCC</text>
<text transform="translate(1617.9,533) rotate(-90)">NCI60_1_MDA-MB-435</text>
<text transform="translate(1631.7,533) rotate(-90)">NCI60_1_MDA-N</text>
<text transform="translate(1645.5,533) rotate(-90)">NCI60_1_MOLT-4</text>
<text transform="translate(1659.3,533) rotate(-90)">NCI60_1_NCI-ADR-RES</text>
<text transform="translate(1673.2,533) rotate(-90)">NCI60_1_NCI-H226</text>
<text transform="translate(1687.0,533) rotate(-90)">NCI60_1_NCI-H322M</text>
<text transform="translate(1700.8,533) rotate(-90)">NCI60_1_NCI-H460</text>
<text transform="translate(1714.6,533) rotate(-90)">NCI60_1_NCI-H522</text>
<text transform="translate(1728.5,533) rotate(-90)">NCI60_1_OVCAR-3</text>
<text transform="translate(1742.3,533) rotate(-90)">NCI60_1_OVCAR-4</text>
<text transform="translate(1756.1,533) rotate(-90)">NCI60_1_OVCAR-5</text>
<text transform="translate(1769.9,533) rotate(-90)">NCI60_1_OVCAR-8</text>
<text transform="translate(1783.8,533) rotate(-90)">NCI60_1_PC-3</text>
<text transform="translate(1797.6,533) rotate(-90)">NCI60_1_RPMI-8226</text>
<text transform="translate(1811.4,533) rotate(-90)">NCI60_1_RXF-393</text>
<text transform="translate(1825.2,533) rotate(-90)">NCI60_1_SF-268</text>
<text transform="translate(1839.1,533) rotate(-90)">NCI60_1_SF-295</text>
<text transform="translate(1852.9,533) rotate(-90)">NCI60_1_SF-539</text>
<text transform="translate(1866.7,533) rotate(-90)">NCI60_1_SK-MEL-28</text>
<text transform="translate(1880.6,533) rotate(-90)">NCI60_1_SK-MEL-2</text>
<text transform="translate(1894.4,533) rotate(-90)">NCI60_1_SK-MEL-5</text>
<text transform="translate(1908.2,533) rotate(-90)">NCI60_1_SK-OV-3</text>
<text transform="translate(1922.0,533) rotate(-90)">NCI60_1_SN12C</text>
<text transform="translate(1935.9,533) rotate(-90)">NCI60_1_SNB-19</text>
<text transform="translate(1949.7,533) rotate(-90)">NCI60_1_SNB-75</text>
<text transform="translate(1963.5,533) rotate(-90)">NCI60_1_SR</text>
<text transform="translate(1977.3,533) rotate(-90)">NCI60_1_SW-620</text>
<text transform="translate(1991.2,533) rotate(-90)">NCI60_1_T47D</text>
<text transform="translate(2005.0,533) rotate(-90)">NCI60_1_TK-10</text>
<text transform="translate(2018.8,533) rotate(-90)">NCI60_1_U251</text>
<text transform="translate(2032.6,533) rotate(-90)">NCI60_1_UACC-257</text>
<text transform="translate(2046.5,533) rotate(-90)">NCI60_1_UACC-62</text>
<text transform="translate(2060.3,533) rotate(-90)">NCI60_1_UO-31</text>
</g>
</svg>
</body></html>
